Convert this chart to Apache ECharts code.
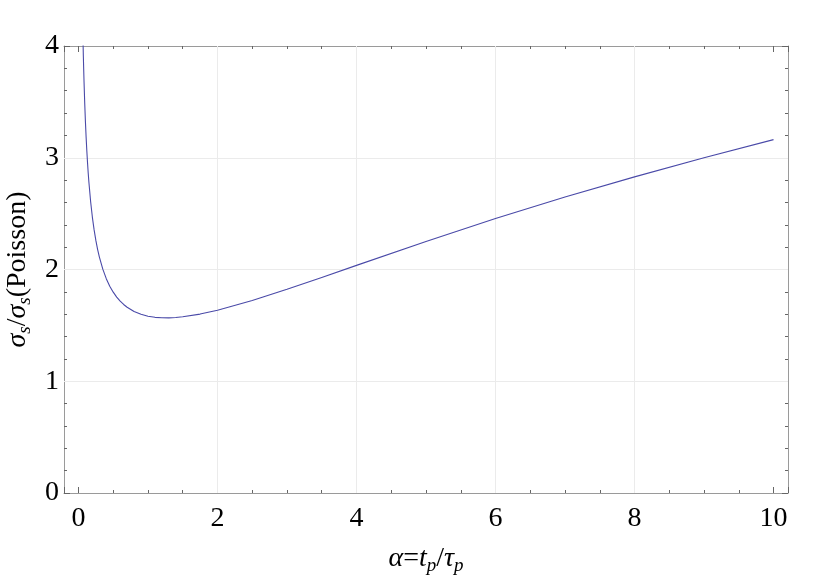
<!DOCTYPE html>
<html>
<head>
<meta charset="utf-8">
<script src="https://cdn.jsdelivr.net/npm/echarts@6/dist/echarts.min.js"></script>
<style>
html,body{margin:0;padding:0;background:#fff;}
#chart{width:834px;height:584px;}
</style>
</head>
<body>
<div id="chart"></div>
<script>
const alphaVals = [0.065,0.07,0.075,0.08,0.09,0.1,0.11,0.12,0.13,0.14,0.15,0.175,0.2,0.225,0.25,0.275,0.3,0.35,0.4,0.45,0.5,0.55,0.6,0.65,0.7,0.8,0.9,1.0,1.1,1.2,1.3,1.4,1.5,1.75,2,2.5,3,3.5,4,5,6,7,8,9,10];
const ratioVals = [4.052,3.913,3.790,3.679,3.486,3.323,3.184,3.063,2.958,2.864,2.781,2.606,2.467,2.354,2.260,2.181,2.113,2.003,1.918,1.851,1.797,1.753,1.717,1.687,1.662,1.624,1.599,1.582,1.572,1.568,1.567,1.570,1.577,1.601,1.636,1.722,1.823,1.929,2.037,2.251,2.456,2.648,2.829,3.000,3.162];
const xTickLabels = ['0','2','4','6','8','10'];
const yTickLabels = ['0','1','2','3','4'];
const xGridVals = [2, 4, 6, 8];
const yGridVals = [1, 2, 3];

const FONT = '"Liberation Serif", "Times New Roman", serif';
const frameColor = '#9a9a9a';
const tickColor = '#666';
const gridColor = '#ebebeb';

const chart = echarts.init(document.getElementById('chart'), null, {renderer: 'canvas'});

function xLabelFmt(v) {
  const s = String(Math.round(v));
  return (Math.abs(v - Math.round(v)) < 1e-6 && xTickLabels.indexOf(s) >= 0) ? s : '';
}
function yLabelFmt(v) {
  const s = String(Math.round(v));
  return (Math.abs(v - Math.round(v)) < 1e-6 && yTickLabels.indexOf(s) >= 0) ? s : '';
}

const xCommon = {
  type: 'value', min: -0.2083, max: 10.2083, splitNumber: 5,
  axisLine: {show: true, onZero: false, lineStyle: {color: frameColor, width: 1}},
  axisTick: {show: true, inside: true, length: 6, lineStyle: {color: tickColor}},
  minorTick: {show: true, splitNumber: 4, length: 3, lineStyle: {color: tickColor}},
  splitLine: {show: false}
};
const yCommon = {
  type: 'value', min: 0, max: 4, interval: 1,
  axisLine: {show: true, onZero: false, lineStyle: {color: frameColor, width: 1}},
  axisTick: {show: true, inside: true, length: 6, lineStyle: {color: tickColor}},
  minorTick: {show: true, splitNumber: 5, length: 3, lineStyle: {color: tickColor}},
  splitLine: {show: false}
};

const richName = {
  i: {fontFamily: FONT, fontSize: 28, fontStyle: 'italic', color: '#000', lineHeight: 32},
  n: {fontFamily: FONT, fontSize: 28, color: '#000', lineHeight: 32},
  sub: {fontFamily: FONT, fontSize: 19, fontStyle: 'italic', color: '#000', padding: [14, 0, 0, 0], lineHeight: 19}
};

const gridMarkData = xGridVals.map(v => ({xAxis: v})).concat(yGridVals.map(v => ({yAxis: v})));

chart.setOption({
  animation: false,
  backgroundColor: '#fff',
  grid: {left: 64, right: 46, top: 46, bottom: 91, containLabel: false, outerBoundsMode: 'none'},
  xAxis: [
    Object.assign({}, xCommon, {
      position: 'bottom',
      axisLabel: {show: true, formatter: xLabelFmt, margin: 12, color: '#000', fontFamily: FONT, fontSize: 28, showMinLabel: true, showMaxLabel: true},
      name: '{i|α}{n|=}{i|t}{sub|p}{n|/}{i|τ}{sub|p}',
      nameLocation: 'middle', nameGap: 50,
      nameTextStyle: {fontFamily: FONT, fontSize: 28, color: '#000', rich: richName}
    }),
    Object.assign({}, xCommon, {
      position: 'top',
      axisLabel: {show: false}
    })
  ],
  yAxis: [
    Object.assign({}, yCommon, {
      position: 'left',
      axisLabel: {show: true, formatter: yLabelFmt, margin: 5, color: '#000', fontFamily: FONT, fontSize: 28},
      name: '{i|σ}{sub|s}{n|/}{i|σ}{sub|s}{n|(Poisson)}',
      nameLocation: 'middle', nameGap: 28, nameRotate: 90,
      nameTextStyle: {fontFamily: FONT, fontSize: 28, color: '#000', rich: richName}
    }),
    Object.assign({}, yCommon, {
      position: 'right',
      axisLabel: {show: false}
    })
  ],
  series: [{
    type: 'line',
    data: [],
    xAxisIndex: 0, yAxisIndex: 0,
    z: 1,
    silent: true,
    markLine: {
      z: 1,
      silent: true,
      symbol: ['none', 'none'],
      label: {show: false},
      lineStyle: {color: gridColor, width: 1, type: 'solid'},
      emphasis: {disabled: true},
      data: gridMarkData
    }
  }, {
    type: 'line',
    data: alphaVals.map((a, i) => [a, ratioVals[i]]),
    xAxisIndex: 0, yAxisIndex: 0,
    z: 6,
    showSymbol: false,
    smooth: false,
    clip: true,
    lineStyle: {color: '#4a4aa8', width: 1.1},
    silent: true
  }]
});
</script>
</body>
</html>
